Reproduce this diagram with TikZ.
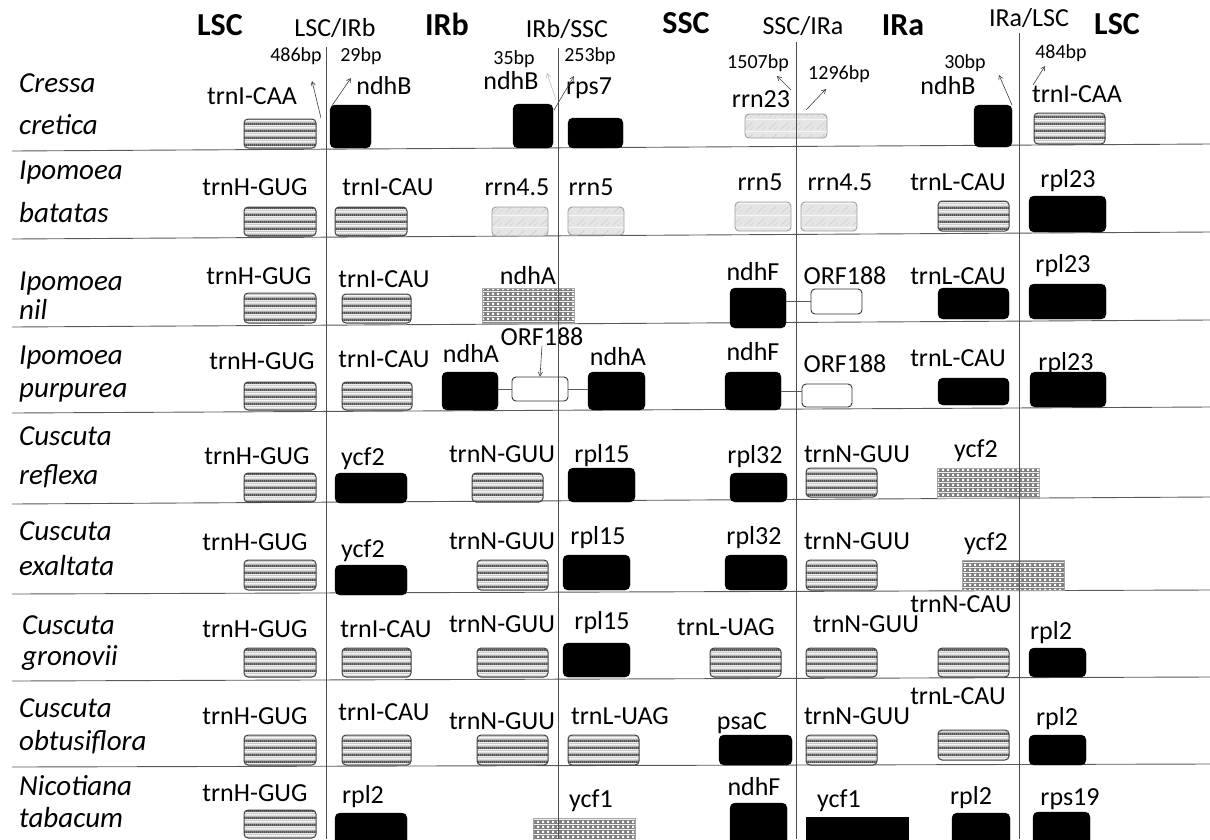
\documentclass[tikz,border=0pt]{standalone}
\usepackage{fontspec}
\setmainfont{Carlito}
\usepackage{tikz}
\usetikzlibrary{patterns,patterns.meta,fit,arrows.meta}

% fills of the gene boxes
\tikzdeclarepattern{
  name=trnastripes,
  type=colored,
  bounding box={(0pt,0pt) and (2pt,7pt)},
  tile size={(2pt,7pt)},
  code={
    \fill[gray!40] (0pt,0pt) rectangle (2pt,7pt);
    \fill[black!70] (0pt,0pt) rectangle (2pt,2pt);
    \fill[gray!75] (0pt,2pt) rectangle (2pt,3pt);
    \fill[white] (0pt,4pt) rectangle (2pt,5.5pt);
  }
}
\tikzdeclarepattern{
  name=cellgrid,
  type=colored,
  bounding box={(0pt,0pt) and (4.5pt,4.5pt)},
  tile size={(4.5pt,4.5pt)},
  code={
    \fill[black!50] (0pt,0pt) rectangle (4.5pt,4.5pt);
    \fill[white] (1.3pt,1.3pt) rectangle (3.4pt,3.4pt);
  }
}
\tikzdeclarepattern{
  name=rrnamarble,
  type=colored,
  bounding box={(0pt,0pt) and (12pt,12pt)},
  tile size={(12pt,12pt)},
  code={
    \fill[gray!20] (0pt,0pt) rectangle (12pt,12pt);
    \draw[gray!40, line width=0.6pt] (1pt,2pt) -- (9pt,9pt);
    \draw[gray!32, line width=0.5pt] (6pt,1pt) -- (11pt,5pt);
  }
}

\tikzset{
  trna/.style={draw=black!75, line width=1pt, rounded corners=4pt, pattern=trnastripes, inner sep=0pt},
  prot/.style={draw=black, fill=black, rounded corners=5pt, inner sep=0pt},
  rrna/.style={draw=gray!75, line width=0.9pt, rounded corners=4pt, pattern=rrnamarble, inner sep=0pt},
  part/.style={draw=gray!70, line width=0.6pt, pattern=cellgrid, inner sep=0pt},
  orfbox/.style={draw=black!80, line width=0.9pt, fill=white, rounded corners=4pt, inner sep=0pt},
  gname/.style={font=\fontsize{26}{30}\selectfont, anchor=mid, inner sep=0pt},
  bplab/.style={font=\fontsize{20}{24}\selectfont, anchor=mid, inner sep=0pt},
  region/.style={font=\fontsize{32}{36}\selectfont\bfseries, anchor=mid, inner sep=0pt},
  border/.style={font=\fontsize{26}{30}\selectfont, anchor=mid, inner sep=0pt},
  species/.style={font=\fontsize{29}{34}\selectfont\itshape, anchor=mid west, inner sep=0pt},
  rowline/.style={gray!70!black, line width=0.9pt},
  junction/.style={black!70, line width=0.9pt},
  bparrow/.style={-{Straight Barb[length=4pt,width=4.5pt]}, black!75, line width=0.6pt},
  link/.style={gray!70!black, line width=0.9pt},
}

\begin{document}
\begin{tikzpicture}[x=1pt,y=-1pt]
\useasboundingbox (0,0) rectangle (1210,839);
\clip (0,0) rectangle (1210,839);

% Row lines
\foreach \yl/\yr in {151/144,239/232,327/320,413/407,504/497,594/590,681/677,767/764}
  \draw[rowline] (12,\yl) -- (1210,\yr);

% Header
\node[region] (lscA) at (220,33) {LSC};
\node[border] (jLI) at (335,34) {LSC/IRb};
\node[region] (irb) at (447,33) {IRb};
\node[border] (jIS) at (567,35) {IRb/SSC};
\node[region] (ssc) at (686,31) {SSC};
\node[border] (jSI) at (803,32) {SSC/IRa};
\node[region] (ira) at (903,33) {IRa};
\node[border] (jIL) at (1029,24) {IRa/LSC};
\node[region] (lscB) at (1117,32) {LSC};

% Species
\foreach \nm/\x/\y in {Cressa/19/90, cretica/19/132, Ipomoea/19/177, batatas/19/220,
    Ipomoea/19/288, nil/19/317, Ipomoea/19/362, purpurea/19/395,
    Cuscuta/19/443, reflexa/19/482, Cuscuta/19/538, exaltata/19/573,
    Cuscuta/22/632, gronovii/22/663, Cuscuta/19/715, obtusiflora/19/748,
    Nicotiana/19/793, tabacum/19/825}
  \node[species] (sp\y) at (\x,\y) {\nm};

% Cressa cretica
\node[trna, fit={(244,119) (316,148)}] (cr-trnI) {};
\node[gname] (cr-trnI-t) at (252,102) {trnI-CAA};
\node[prot, fit={(330,105) (371,148)}] (cr-ndhB) {};
\node[gname] (cr-ndhB-t) at (384,92) {ndhB};
\node[prot, fit={(513,104) (553,148)}] (cr-ndhBb) {};
\node[gname] (cr-ndhBb-t) at (511,87) {ndhB};
\node[prot, fit={(568,118) (623,148)}] (cr-rps7) {};
\node[gname] (cr-rps7-t) at (589,92) {rps7};
\node[rrna, fit={(745,114) (827,138)}] (cr-rrn23) {};
\node[gname] (cr-rrn23-t) at (761,105) {rrn23};
\node[prot, fit={(974,105) (1012,147)}] (cr-ndhBc) {};
\node[gname] (cr-ndhBc-t) at (948,92) {ndhB};
\node[trna, fit={(1034,113) (1105,144)}] (cr-trnIb) {};
\node[gname] (cr-trnIb-t) at (1077,100) {trnI-CAA};
% distances to the junctions
\node[bplab] (bp486) at (296,59) {486bp};
\node[bplab] (bp29) at (361,59) {29bp};
\node[bplab] (bp35) at (514,62) {35bp};
\node[bplab] (bp253) at (590,59) {253bp};
\node[bplab] (bp1507) at (758,66) {1507bp};
\node[bplab] (bp1296) at (839,77) {1296bp};
\node[bplab] (bp30) at (965,66) {30bp};
\node[bplab] (bp484) at (1061,56) {484bp};
\foreach \nm/\ax/\ay/\bx/\by in {486/321/118/312/81, 29/331/107/351/78, 253/554/110/574/76,
    1507/791/90/777/76, 1296/806/110/826/89, 30/1012/105/999/75, 484/1033/85/1045/66}{
  \coordinate (s\nm) at (\ax,\ay);
  \coordinate (e\nm) at (\bx,\by);
  \draw[bparrow] (s\nm) -- (e\nm);
}
\coordinate (s35) at (556,100);
\coordinate (e35) at (547,73);
\draw[bparrow, gray!55] (s35) -- (e35);

% Ipomoea batatas
\node[trna, fit={(244,207) (316,236)}] (ib-trnH) {};
\node[gname] (ib-trnH-t) at (255,193) {trnH-GUG};
\node[trna, fit={(335,207) (407,236)}] (ib-trnI) {};
\node[gname] (ib-trnI-t) at (388,193) {trnI-CAU};
\node[rrna, fit={(492,207) (548,236)}] (ib-rrn45) {};
\node[gname] (ib-rrn45-t) at (517,193) {rrn4.5};
\node[rrna, fit={(568,207) (624,235)}] (ib-rrn5) {};
\node[gname] (ib-rrn5-t) at (591,193) {rrn5};
\node[rrna, fit={(735,202) (791,231)}] (ib-rrn5b) {};
\node[gname] (ib-rrn5b-t) at (760,188) {rrn5};
\node[rrna, fit={(801,202) (857,231)}] (ib-rrn45b) {};
\node[gname] (ib-rrn45b-t) at (840,188) {rrn4.5};
\node[trna, fit={(938,201) (1009,231)}] (ib-trnL) {};
\node[gname] (ib-trnL-t) at (958,188) {trnL-CAU};
\node[prot, fit={(1029,196) (1106,232)}] (ib-rpl23) {};
\node[gname] (ib-rpl23-t) at (1068,185) {rpl23};

% Ipomoea nil
\node[trna, fit={(244,293) (316,323)}] (in-trnH) {};
\node[gname] (in-trnH-t) at (259,282) {trnH-GUG};
\node[trna, fit={(342,294) (411,323)}] (in-trnI) {};
\node[gname] (in-trnI-t) at (384,285) {trnI-CAU};
\node[part, fit={(482,288) (574,323)}] (in-ndhA) {};
\node[gname] (in-ndhA-t) at (528,282) {ndhA};
\node[prot, fit={(730,288) (786,328)}] (in-ndhF) {};
\node[gname] (in-ndhF-t) at (753,278) {ndhF};
\node[orfbox, fit={(811,289) (862,314)}] (in-orf) {};
\node[gname] (in-orf-t) at (845,282) {ORF188};
\node[prot, fit={(938,288) (1009,319)}] (in-trnL) {};
\node[gname] (in-trnL-t) at (958,282) {trnL-CAU};
\node[prot, fit={(1029,284) (1106,319)}] (in-rpl23) {};
\node[gname] (in-rpl23-t) at (1063,270) {rpl23};
\draw[link] (in-ndhF.east |- in-orf.west) -- (in-orf.west);

% Ipomoea purpurea
\node[trna, fit={(244,382) (316,410)}] (ip-trnH) {};
\node[gname] (ip-trnH-t) at (262,367) {trnH-GUG};
\node[trna, fit={(342,382) (412,410)}] (ip-trnI) {};
\node[gname] (ip-trnI-t) at (384,365) {trnI-CAU};
\node[prot, fit={(442,372) (498,410)}] (ip-ndhA) {};
\node[gname] (ip-ndhA-t) at (471,360) {ndhA};
\node[orfbox, fit={(512,377) (568,401)}] (ip-orf) {};
\node[gname] (ip-orf-t) at (542,343) {ORF188};
\node[prot, fit={(588,372) (645,410)}] (ip-ndhAb) {};
\node[gname] (ip-ndhAb-t) at (618,363) {ndhA};
\node[prot, fit={(725,372) (781,410)}] (ip-ndhF) {};
\node[gname] (ip-ndhF-t) at (753,358) {ndhF};
\node[orfbox, fit={(802,384) (852,407)}] (ip-orfb) {};
\node[gname] (ip-orfb-t) at (845,370) {ORF188};
\node[prot, fit={(938,378) (1009,405)}] (ip-trnL) {};
\node[gname] (ip-trnL-t) at (958,364) {trnL-CAU};
\node[gname] (ip-rpl23-t) at (1066,368) {rpl23};
\node[prot, fit={(1030,372) (1106,407)}] (ip-rpl23) {};
\draw[link] (ip-ndhA.east |- ip-orf.west) -- (ip-orf.west);
\draw[link] (ip-orf.east) -- (ip-ndhAb.west |- ip-orf.east);
\draw[link] (ip-ndhF.east) -- (ip-orfb.west |- ip-ndhF.east);
\draw[bparrow] (ip-orf-t.south) -- (ip-orf.north);

% Cuscuta reflexa
\node[trna, fit={(244,473) (316,502)}] (cre-trnH) {};
\node[gname] (cre-trnH-t) at (257,462) {trnH-GUG};
\node[prot, fit={(335,473) (407,503)}] (cre-ycf2) {};
\node[gname] (cre-ycf2-t) at (363,463) {ycf2};
\node[trna, fit={(472,473) (543,502)}] (cre-trnN) {};
\node[gname] (cre-trnN-t) at (502,460) {trnN-GUU};
\node[prot, fit={(568,468) (635,502)}] (cre-rpl15) {};
\node[gname] (cre-rpl15-t) at (602,460) {rpl15};
\node[prot, fit={(730,473) (787,502)}] (cre-rpl32) {};
\node[gname] (cre-rpl32-t) at (755,461) {rpl32};
\node[trna, fit={(806,468) (877,497)}] (cre-trnNb) {};
\node[gname] (cre-trnNb-t) at (857,460) {trnN-GUU};
\node[part, fit={(937,468) (1039,498)}] (cre-ycf2b) {};
\node[gname] (cre-ycf2b-t) at (976,455) {ycf2};

% Cuscuta exaltata
\node[trna, fit={(244,560) (316,590)}] (cex-trnH) {};
\node[gname] (cex-trnH-t) at (255,548) {trnH-GUG};
\node[prot, fit={(335,565) (407,595)}] (cex-ycf2) {};
\node[gname] (cex-ycf2-t) at (363,555) {ycf2};
\node[trna, fit={(477,560) (548,590)}] (cex-trnN) {};
\node[gname] (cex-trnN-t) at (502,547) {trnN-GUU};
\node[prot, fit={(563,555) (630,590)}] (cex-rpl15) {};
\node[gname] (cex-rpl15-t) at (598,542) {rpl15};
\node[prot, fit={(725,555) (787,590)}] (cex-rpl32) {};
\node[gname] (cex-rpl32-t) at (754,542) {rpl32};
\node[trna, fit={(806,560) (877,590)}] (cex-trnNb) {};
\node[gname] (cex-trnNb-t) at (857,547) {trnN-GUU};
\node[part, fit={(962,560) (1064,590)}] (cex-ycf2b) {};
\node[gname] (cex-ycf2b-t) at (986,548) {ycf2};

% Cuscuta gronovii
\node[trna, fit={(244,648) (316,677)}] (cgr-trnH) {};
\node[gname] (cgr-trnH-t) at (255,635) {trnH-GUG};
\node[trna, fit={(342,648) (411,677)}] (cgr-trnI) {};
\node[gname] (cgr-trnI-t) at (386,635) {trnI-CAU};
\node[trna, fit={(477,648) (548,677)}] (cgr-trnN) {};
\node[gname] (cgr-trnN-t) at (502,630) {trnN-GUU};
\node[prot, fit={(563,643) (630,677)}] (cgr-rpl15) {};
\node[gname] (cgr-rpl15-t) at (602,627) {rpl15};
\node[trna, fit={(710,648) (781,677)}] (cgr-trnL) {};
\node[gname] (cgr-trnL-t) at (726,633) {trnL-UAG};
\node[trna, fit={(806,648) (877,677)}] (cgr-trnNb) {};
\node[gname] (cgr-trnNb-t) at (866,630) {trnN-GUU};
\node[trna, fit={(938,648) (1009,677)}] (cgr-trnNc) {};
\node[gname] (cgr-trnNc-t) at (961,610) {trnN-CAU};
\node[prot, fit={(1029,648) (1086,677)}] (cgr-rpl2) {};
\node[gname] (cgr-rpl2-t) at (1051,637) {rpl2};

% Cuscuta obtusiflora
\node[trna, fit={(244,735) (316,765)}] (cob-trnH) {};
\node[gname] (cob-trnH-t) at (255,722) {trnH-GUG};
\node[trna, fit={(342,735) (411,765)}] (cob-trnI) {};
\node[gname] (cob-trnI-t) at (384,718) {trnI-CAU};
\node[gname] (cob-trnN-t) at (502,727) {trnN-GUU};
\node[trna, fit={(477,735) (548,765)}] (cob-trnN) {};
\node[trna, fit={(568,735) (639,765)}] (cob-trnL) {};
\node[gname] (cob-trnL-t) at (620,722) {trnL-UAG};
\node[gname] (cob-psaC-t) at (742,727) {psaC};
\node[prot, fit={(719,735) (792,765)}] (cob-psaC) {};
\node[trna, fit={(806,735) (877,765)}] (cob-trnNb) {};
\node[gname] (cob-trnNb-t) at (857,722) {trnN-GUU};
\node[trna, fit={(938,730) (1009,760)}] (cob-trnLb) {};
\node[gname] (cob-trnLb-t) at (958,702) {trnL-CAU};
\node[prot, fit={(1029,735) (1086,765)}] (cob-rpl2) {};
\node[gname] (cob-rpl2-t) at (1057,723) {rpl2};

% Nicotiana tabacum
\node[trna, fit={(244,810) (316,838)}] (nt-trnH) {};
\node[gname] (nt-trnH-t) at (255,799) {trnH-GUG};
\node[prot, fit={(335,813) (407,850)}] (nt-rpl2) {};
\node[gname] (nt-rpl2-t) at (363,801) {rpl2};
\node[part, fit={(533,818) (635,850)}] (nt-ycf1) {};
\node[gname] (nt-ycf1-t) at (591,805) {ycf1};
\node[prot, fit={(730,803) (787,850)}] (nt-ndhF) {};
\node[gname] (nt-ndhF-t) at (754,793) {ndhF};
\node[prot, sharp corners, fit={(806,817) (908,850)}] (nt-ycf1b) {};
\node[gname] (nt-ycf1b-t) at (839,805) {ycf1};
\node[prot, fit={(952,813) (1010,850)}] (nt-rpl2b) {};
\node[gname] (nt-rpl2b-t) at (971,802) {rpl2};
\node[prot, fit={(1033,812) (1090,850)}] (nt-rps19) {};
\node[gname] (nt-rps19-t) at (1070,803) {rps19};

% Junction lines
\foreach \x/\top in {326/47,558/48,796/42,1019/33}
  \draw[junction] (\x,\top) -- (\x,839);
\end{tikzpicture}
\end{document}
